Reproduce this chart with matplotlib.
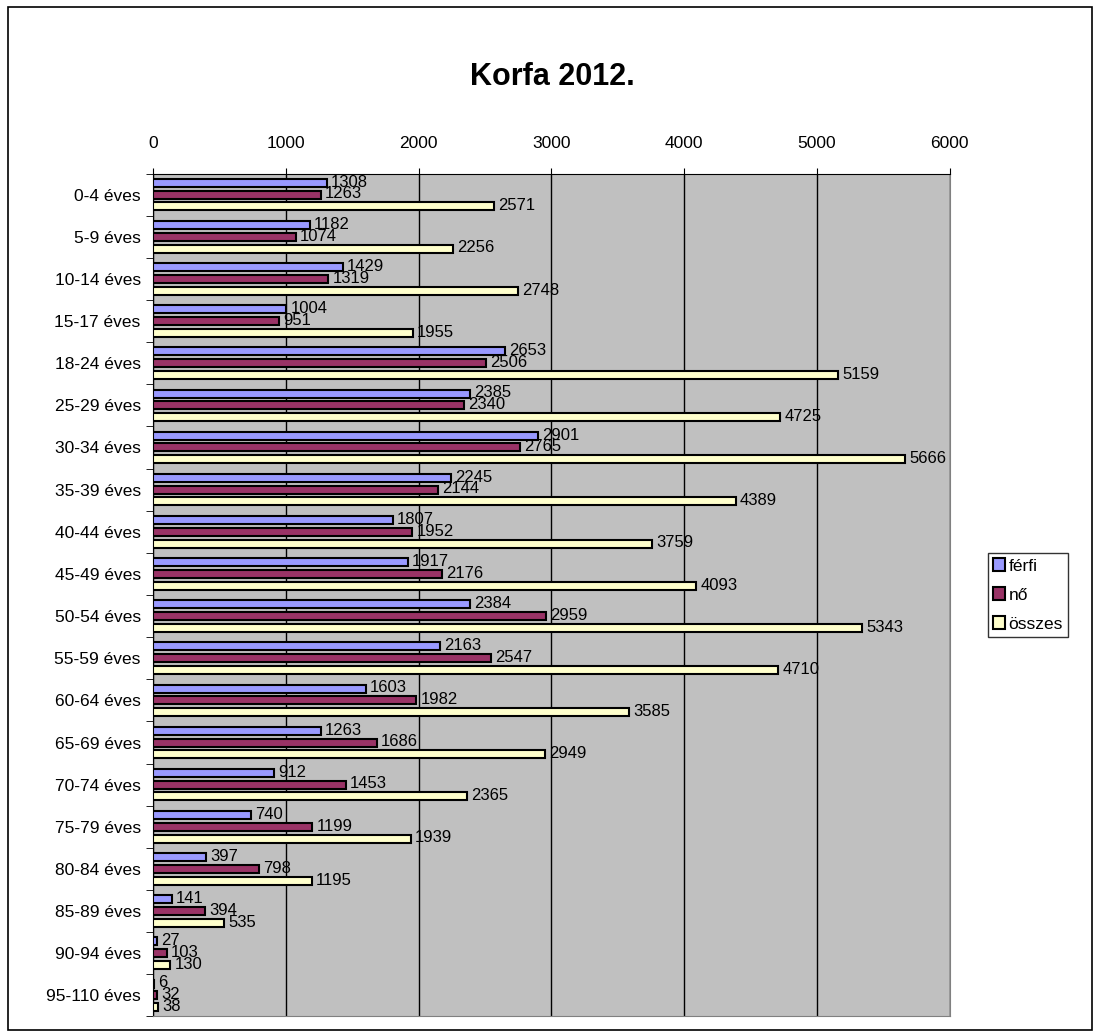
import matplotlib.pyplot as plt
import numpy as np
from matplotlib.patches import Rectangle

# korcsoportok es letszamok
groups = ["0-4 éves", "5-9 éves", "10-14 éves", "15-17 éves", "18-24 éves",
          "25-29 éves", "30-34 éves", "35-39 éves", "40-44 éves", "45-49 éves",
          "50-54 éves", "55-59 éves", "60-64 éves", "65-69 éves", "70-74 éves",
          "75-79 éves", "80-84 éves", "85-89 éves", "90-94 éves", "95-110 éves"]
ferfi = [1308, 1182, 1429, 1004, 2653, 2385, 2901, 2245, 1807, 1917,
         2384, 2163, 1603, 1263, 912, 740, 397, 141, 27, 6]
no = [1263, 1074, 1319, 951, 2506, 2340, 2765, 2144, 1952, 2176,
      2959, 2547, 1982, 1686, 1453, 1199, 798, 394, 103, 32]
osszes = [2571, 2256, 2748, 1955, 5159, 4725, 5666, 4389, 3759, 4093,
          5343, 4710, 3585, 2949, 2365, 1939, 1195, 535, 130, 38]
series = [("férfi", ferfi, "#9999FF"), ("nő", no, "#993366"), ("összes", osszes, "#FFFFCC")]

plt.rcParams['font.family'] = ['Liberation Sans', 'DejaVu Sans']

fig = plt.figure(figsize=(10.94, 10.33), dpi=100)
fig.patches.append(Rectangle((0.007, 0.003), 0.991, 0.99, transform=fig.transFigure,
                             fill=False, edgecolor="black", linewidth=1.2))
ax = fig.add_axes([0.140, 0.016, 0.728, 0.816])
ax.set_facecolor("#C0C0C0")

y = np.arange(len(groups))
offsets = [-0.28, 0.0, 0.28]
for (name, vals, col), off in zip(series, offsets):
    ax.barh(y + off, vals, height=0.19, color=col, edgecolor="black",
            linewidth=1.5, label=name, zorder=3)
    for yi, v in zip(y, vals):
        ax.annotate(str(v), (v, yi + off), xytext=(3, 0.5), textcoords="offset points",
                    va="center", ha="left", fontsize=12, zorder=4)

ax.set_xlim(0, 6000)
ax.set_ylim(len(groups) - 0.5, -0.5)
ax.set_xticks(range(0, 6001, 1000))
ax.xaxis.tick_top()
ax.tick_params(axis="x", labelsize=12.5, length=4, pad=12)
ax.set_yticks(y)
ax.set_yticklabels(groups, fontsize=12.5)
ax.set_yticks(np.arange(-0.5, len(groups), 1), minor=True)
ax.tick_params(axis="y", which="major", length=0, pad=9)
ax.tick_params(axis="y", which="minor", length=5)
ax.grid(axis="x", color="black", linewidth=1, zorder=1)
for s in ["right", "bottom"]:
    ax.spines[s].set_color("#808080")

fig.text(0.505, 0.925, "Korfa 2012.", ha="center", va="center", fontsize=22, fontweight="bold")

leg = ax.legend(loc="center left", bbox_to_anchor=(1.048, 0.5), fontsize=12.5, frameon=True,
                fancybox=False, edgecolor="black", handlelength=0.7, handleheight=0.7,
                handletextpad=0.2, borderpad=0.3, labelspacing=0.8, borderaxespad=0)
leg.get_frame().set_linewidth(1)

fig.savefig("out.png", dpi=100)
